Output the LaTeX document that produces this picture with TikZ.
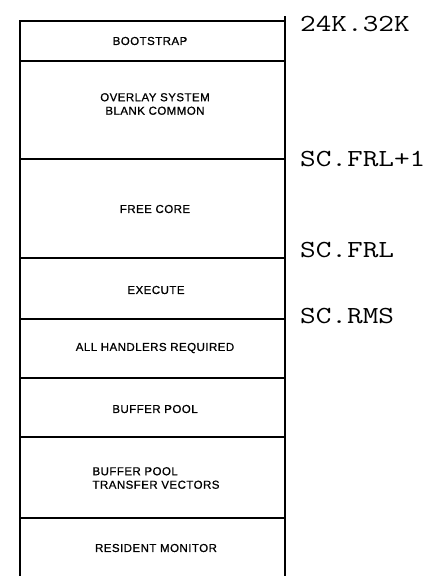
\documentclass[tikz,border=0pt]{standalone}
\usepackage{fontspec}
\setmainfont[LetterSpace=4, FakeBold=0.8]{Liberation Sans}
\newfontfamily\addrfont[FakeStretch=1.24]{Latin Modern Mono}

\begin{document}
\begin{tikzpicture}[x=1pt, y=-1pt,
    region/.style={font=\fontsize{11.5}{13.5}\selectfont, inner sep=0pt},
    address/.style={anchor=west, inner sep=0pt, font=\addrfont\fontsize{24.5}{28}\selectfont},
    wall/.style={line width=1.7pt}
]
    \useasboundingbox (0,0) rectangle (432,576);

    % outer frame, open at the bottom
    \draw[wall] (20,580) -- (20,21) -- (285,21);
    \draw[wall] (285,16) -- (285,580);

    % region borders
    \draw[wall] (20,61) -- (285,61);
    \draw[wall] (20,159) -- (285,159);
    \draw[wall] (20,258) -- (285,258);
    \draw[wall] (20,319) -- (285,319);
    \draw[wall] (20,378) -- (285,378);
    \draw[wall] (20,437) -- (285,437);
    \draw[wall] (20,518) -- (285,518);

    \node[region] (bootstrap) at (150,41) {BOOTSTRAP};
    \node[region, align=center] (overlay) at (155,104) {OVERLAY SYSTEM\\BLANK COMMON};
    \node[region] (freecore) at (155,209) {FREE CORE};
    \node[region] (execute) at (156,290) {EXECUTE};
    \node[region] (handlers) at (155,348) {ALL HANDLERS REQUIRED};
    \node[region] (bufpool) at (155,409) {BUFFER POOL};
    \node[region, align=left] (vectors) at (156,478) {BUFFER POOL\\TRANSFER VECTORS};
    \node[region] (monitor) at (156,548) {RESIDENT MONITOR};

    \node[address] (top) at (300,24) {24K.32K};
    \node[address] (frlone) at (300,159) {SC.FRL+1};
    \node[address] (frl) at (300,250) {SC.FRL};
    \node[address] (rms) at (300,316) {SC.RMS};
\end{tikzpicture}
\end{document}
